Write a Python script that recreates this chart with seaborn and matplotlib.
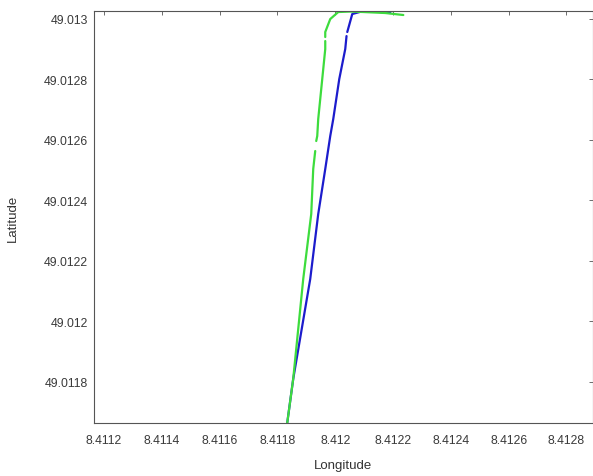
import numpy as np
import pandas as pd
import matplotlib
matplotlib.use("Agg")
import matplotlib.pyplot as plt
import seaborn as sns

# blue track (NaN = gap in the line)
blue_lon = [8.4118338, 8.4118545, 8.4118840, 8.4119134, 8.4119411, 8.4119654,
            8.4119827, 8.4119931, 8.4120139, 8.4120346, 8.4120390, np.nan,
            8.4120416, 8.4120589, 8.4120970, 8.4121385, 8.4121905]
blue_lat = [49.0116628, 49.0118083, 49.0119736, 49.0121388, 49.0123537, 49.0125025,
            49.0126116, 49.0126678, 49.0128000, 49.0128992, 49.0129420, np.nan,
            49.0129554, 49.0130149, 49.0130248, 49.0130231, 49.0130182]

# green track
green_lon = [8.4118338, 8.4118545, 8.4118719, 8.4118892, 8.4119169, 8.4119238,
             8.4119307, np.nan, 8.4119342, 8.4119377, 8.4119411, 8.4119550,
             8.4119654, 8.4119654, np.nan, 8.4119654, 8.4119654, 8.4119827,
             8.4120104, 8.4120520, 8.4120970, 8.4121732, 8.4122355]
green_lat = [49.0116628, 49.0118083, 49.0119736, 49.0121388, 49.0123537, 49.0125025,
             49.0125620, np.nan, 49.0125950, 49.0126116, 49.0126678, 49.0128000,
             49.0128992, 49.0129256, np.nan, 49.0129388, 49.0129554, 49.0129983,
             49.0130215, 49.0130231, 49.0130215, 49.0130182, 49.0130116]

x_ticks = [8.4112, 8.4114, 8.4116, 8.4118, 8.4120, 8.4122, 8.4124, 8.4126, 8.4128]
x_labels = ["8.4112", "8.4114", "8.4116", "8.4118", "8.412", "8.4122", "8.4124", "8.4126", "8.4128"]
y_ticks = [49.0118, 49.0120, 49.0122, 49.0124, 49.0126, 49.0128, 49.0130]
y_labels = ["49.0118", "49.012", "49.0122", "49.0124", "49.0126", "49.0128", "49.013"]


def to_frame(lon, lat, name):
    seg = np.cumsum(np.isnan(np.array(lon, dtype=float)))
    df = pd.DataFrame({"lon": lon, "lat": lat, "track": name, "seg": [f"{name}{s}" for s in seg]})
    return df.dropna()


df = pd.concat([to_frame(blue_lon, blue_lat, "blue"), to_frame(green_lon, green_lat, "green")],
               ignore_index=True)

sns.set_style("white")
plt.rcParams['font.family'] = ['Liberation Sans', 'DejaVu Sans']

fig = plt.figure(figsize=(5.93, 4.77), dpi=100)
ax = fig.add_axes([0.1577, 0.1111, 0.8423, 0.8637])

sns.lineplot(data=df, x="lon", y="lat", hue="track", units="seg", estimator=None,
             sort=False, palette={"blue": "#1c1ccc", "green": "#3ddc3d"},
             linewidth=1.6, legend=False, ax=ax)

ax.set_xlim(8.4111636, 8.4128918)
ax.set_ylim(49.0116628, 49.0130248)
ax.set_xticks(x_ticks)
ax.set_xticklabels(x_labels)
ax.set_yticks(y_ticks)
ax.set_yticklabels(y_labels)
ax.tick_params(direction="in", length=3, width=0.6, colors="#555555", labelsize=8.8,
               top=True, right=True, labelcolor="#3a3a3a")
ax.tick_params(axis="x", pad=8)
ax.tick_params(axis="y", pad=4)
for sp in ax.spines.values():
    sp.set_color("#555555")
    sp.set_linewidth(0.8)

ax.set_xlabel("Longitude", fontsize=9.5, color="#333333", labelpad=9)
ax.set_ylabel("Latitude", fontsize=9.5, color="#333333", labelpad=18)

fig.savefig("out.png", dpi=100)
